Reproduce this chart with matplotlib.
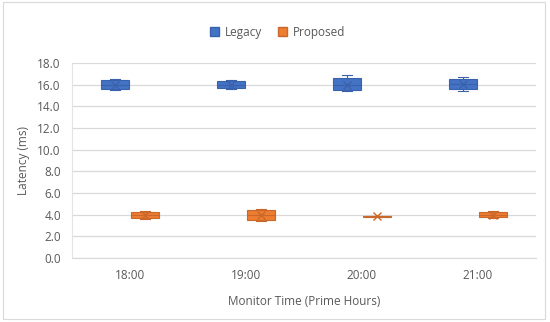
import matplotlib
matplotlib.use('Agg')
import matplotlib.pyplot as plt
from matplotlib.patches import Rectangle, Patch

plt.rcParams['font.family'] = ['Open Sans', 'DejaVu Sans']

# ========================
# Data
# ========================
hours = ['18:00', '19:00', '20:00', '21:00']

legacy_whislo = [15.5, 15.6, 15.4, 15.4]
legacy_q1 = [15.6, 15.7, 15.5, 15.6]
legacy_med = [16.0, 16.0, 16.0, 16.1]
legacy_q3 = [16.4, 16.3, 16.6, 16.5]
legacy_whishi = [16.5, 16.4, 16.9, 16.75]
legacy_mean = [16.0, 16.0, 16.0, 16.1]

proposed_whislo = [3.6, 3.45, 3.82, 3.7]
proposed_q1 = [3.7, 3.5, 3.82, 3.8]
proposed_med = [3.95, 4.0, 3.85, 4.0]
proposed_q3 = [4.2, 4.4, 3.88, 4.2]
proposed_whishi = [4.35, 4.55, 3.88, 4.35]
proposed_mean = [3.95, 4.0, 3.85, 4.0]

series = [
    ('Legacy', '#4472C4', '#3A62AC', -0.13,
     legacy_whislo, legacy_q1, legacy_med, legacy_q3, legacy_whishi, legacy_mean),
    ('Proposed', '#ED7D31', '#C9682A', 0.13,
     proposed_whislo, proposed_q1, proposed_med, proposed_q3, proposed_whishi, proposed_mean),
]

fig = plt.figure(figsize=(5.5, 3.22), dpi=100)
ax = fig.add_axes([0.1309, 0.1988, 0.8436, 0.6056])

for name, fill, edge, offset, wlo, q1, med, q3, whi, mean in series:
    stats = []
    for i in range(len(hours)):
        stats.append({'whislo': wlo[i], 'q1': q1[i], 'med': med[i], 'q3': q3[i],
                      'whishi': whi[i], 'mean': mean[i], 'fliers': []})
    pos = [i + 1 + offset for i in range(len(hours))]
    ax.bxp(stats, positions=pos, widths=0.235, patch_artist=True, showmeans=True,
           showfliers=False, manage_ticks=False, capwidths=0.09,
           boxprops=dict(facecolor=fill, edgecolor=edge, linewidth=0.8),
           medianprops=dict(color=edge, linewidth=0.8),
           whiskerprops=dict(color=edge, linewidth=0.8),
           capprops=dict(color=edge, linewidth=0.8),
           meanprops=dict(marker='x', markeredgecolor=edge, markersize=6,
                          markeredgewidth=1.0))

ax.set_xlim(0.5, 4.5)
ax.set_ylim(0, 18)
ax.set_yticks(range(0, 19, 2))
ax.set_yticklabels([f'{v:.1f}' for v in range(0, 19, 2)])
ax.set_xticks(range(1, len(hours) + 1))
ax.set_xticklabels(hours)
ax.tick_params(axis='both', length=0, labelsize=8.5, colors='#595959', pad=8)
ax.grid(axis='y', color='#D9D9D9', linewidth=0.9)
ax.set_axisbelow(True)
for s in ['top', 'right']:
    ax.spines[s].set_visible(False)
ax.spines['left'].set_color('#E3E3E3')
ax.spines['bottom'].set_color('#D9D9D9')

ax.set_ylabel('Latency (ms)', fontsize=8.5, color='#595959', labelpad=5)
ax.set_xlabel('Monitor Time (Prime Hours)', fontsize=8.5, color='#595959', labelpad=9)

handles = [Patch(facecolor=s[1], edgecolor=s[2], label=s[0]) for s in series]
fig.legend(handles=handles, loc='center', bbox_to_anchor=(0.505, 0.9), ncol=2,
           frameon=False, fontsize=8.5, labelcolor='#595959',
           handlelength=0.8, handleheight=0.8, columnspacing=1.3, handletextpad=0.5)

# chart area border
fig.patches.append(Rectangle((0.005, 0.01), 0.985, 0.985, transform=fig.transFigure,
                             fill=False, edgecolor='#D9D9D9', linewidth=0.8))

fig.savefig('out.png', dpi=100)
